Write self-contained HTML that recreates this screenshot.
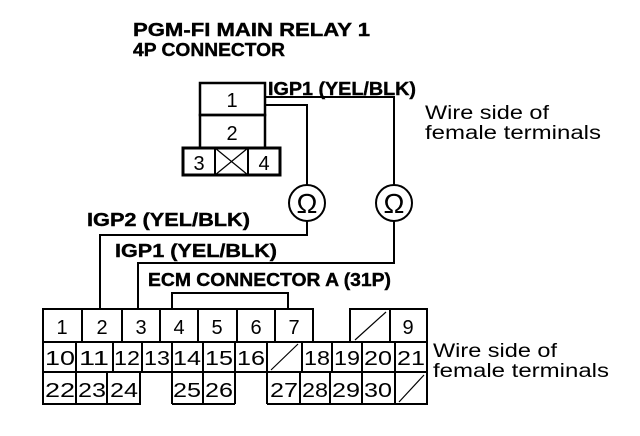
<!DOCTYPE html>
<html><head><style>html,body{margin:0;padding:0;background:#fff}svg{display:block}</style></head><body>
<svg width="640" height="436" viewBox="0 0 640 436" xmlns="http://www.w3.org/2000/svg" font-family="Liberation Sans, Arial, sans-serif">
<g fill="#000" font-weight="bold" font-size="18" stroke="#000" stroke-width="0.4">
<text x="133" y="36" textLength="237" lengthAdjust="spacingAndGlyphs">PGM-FI MAIN RELAY 1</text>
<text x="133" y="56" textLength="152" lengthAdjust="spacingAndGlyphs">4P CONNECTOR</text>
<text x="268" y="95" textLength="148" lengthAdjust="spacingAndGlyphs">IGP1 (YEL/BLK)</text>
<text x="87" y="226" textLength="163" lengthAdjust="spacingAndGlyphs">IGP2 (YEL/BLK)</text>
<text x="115" y="257" textLength="162" lengthAdjust="spacingAndGlyphs">IGP1 (YEL/BLK)</text>
<text x="148" y="286" textLength="243" lengthAdjust="spacingAndGlyphs">ECM CONNECTOR A (31P)</text>
</g>
<g fill="#000" font-size="19">
<text x="425" y="119" textLength="124" lengthAdjust="spacingAndGlyphs">Wire side of</text>
<text x="425" y="139" textLength="176" lengthAdjust="spacingAndGlyphs">female terminals</text>
<text x="433" y="357" textLength="124" lengthAdjust="spacingAndGlyphs">Wire side of</text>
<text x="433" y="377" textLength="176" lengthAdjust="spacingAndGlyphs">female terminals</text>
</g>
<g fill="none" stroke="#000" stroke-width="2">
<rect x="200" y="83" width="65" height="32" stroke-width="2.5"/>
<rect x="200" y="115" width="65" height="33" stroke-width="2.5"/>
<rect x="183" y="148" width="97" height="27" stroke-width="3"/>
<line x1="215" y1="148" x2="215" y2="175"/>
<line x1="248" y1="148" x2="248" y2="175"/>
<line x1="215" y1="148" x2="248" y2="175" stroke-width="1.2"/>
<line x1="248" y1="148" x2="215" y2="175" stroke-width="1.2"/>
<polyline points="265,97 394,97 394,185"/>
<polyline points="394,221 394,263 138,263 138,309"/>
<polyline points="265,105 307,105 307,185"/>
<polyline points="307,221 307,235 100,235 100,309"/>
<circle cx="307" cy="203" r="18"/>
<circle cx="394" cy="203" r="18"/>
<polyline points="172,309 172,293 288,293 288,309"/>
</g>
<g fill="#000" font-size="28" text-anchor="middle">
<text x="307" y="213">Ω</text>
<text x="394" y="213">Ω</text>
</g>
<g fill="#000" font-size="20" text-anchor="middle">
<text x="232" y="107">1</text>
<text x="232" y="140">2</text>
<text x="199" y="170">3</text>
<text x="264" y="170">4</text>
</g>
<g fill="none" stroke="#000" stroke-width="2">
<rect x="43" y="309" width="270" height="33"/>
<line x1="82" y1="309" x2="82" y2="342"/>
<line x1="122" y1="309" x2="122" y2="342"/>
<line x1="160" y1="309" x2="160" y2="342"/>
<line x1="198" y1="309" x2="198" y2="342"/>
<line x1="237" y1="309" x2="237" y2="342"/>
<line x1="275" y1="309" x2="275" y2="342"/>
<rect x="350" y="309" width="77" height="33"/>
<line x1="390" y1="309" x2="390" y2="342"/>
<line x1="355" y1="340" x2="386" y2="312" stroke-width="1.2"/>
<rect x="43" y="342" width="384" height="30"/>
<line x1="76" y1="342" x2="76" y2="404"/>
<line x1="113" y1="342" x2="113" y2="372"/>
<line x1="142" y1="342" x2="142" y2="372"/>
<line x1="172" y1="342" x2="172" y2="404"/>
<line x1="203" y1="342" x2="203" y2="404"/>
<line x1="235" y1="342" x2="235" y2="404"/>
<line x1="267" y1="342" x2="267" y2="404"/>
<line x1="302" y1="342" x2="302" y2="372"/>
<line x1="332" y1="342" x2="332" y2="372"/>
<line x1="362" y1="342" x2="362" y2="404"/>
<line x1="395" y1="342" x2="395" y2="404"/>
<line x1="271" y1="370" x2="298" y2="344" stroke-width="1.2"/>
<polyline points="43,372 43,404 140,404 140,372"/>
<line x1="107" y1="372" x2="107" y2="404"/>
<line x1="172" y1="404" x2="235" y2="404"/>
<polyline points="267,404 427,404 427,372"/>
<line x1="300" y1="372" x2="300" y2="404"/>
<line x1="330" y1="372" x2="330" y2="404"/>
<line x1="399" y1="402" x2="424" y2="375" stroke-width="1.2"/>
</g>
<g fill="#000" font-size="20" text-anchor="middle">
<text x="62" y="334">1</text><text x="102" y="334">2</text><text x="141" y="334">3</text><text x="179" y="334">4</text><text x="217" y="334">5</text><text x="256" y="334">6</text><text x="294" y="334">7</text><text x="408" y="334">9</text>
<text x="60" y="365" textLength="30" lengthAdjust="spacingAndGlyphs">10</text><text x="94" y="365" textLength="30" lengthAdjust="spacingAndGlyphs">11</text><text x="127" y="365" textLength="26" lengthAdjust="spacingAndGlyphs">12</text><text x="157" y="365" textLength="26" lengthAdjust="spacingAndGlyphs">13</text><text x="187" y="365" textLength="28" lengthAdjust="spacingAndGlyphs">14</text><text x="219" y="365" textLength="28" lengthAdjust="spacingAndGlyphs">15</text><text x="251" y="365" textLength="28" lengthAdjust="spacingAndGlyphs">16</text><text x="317" y="365" textLength="26" lengthAdjust="spacingAndGlyphs">18</text><text x="347" y="365" textLength="26" lengthAdjust="spacingAndGlyphs">19</text><text x="378" y="365" textLength="28" lengthAdjust="spacingAndGlyphs">20</text><text x="411" y="365" textLength="28" lengthAdjust="spacingAndGlyphs">21</text>
<text x="60" y="397" textLength="30" lengthAdjust="spacingAndGlyphs">22</text><text x="92" y="397" textLength="28" lengthAdjust="spacingAndGlyphs">23</text><text x="124" y="397" textLength="28" lengthAdjust="spacingAndGlyphs">24</text><text x="187" y="397" textLength="28" lengthAdjust="spacingAndGlyphs">25</text><text x="219" y="397" textLength="28" lengthAdjust="spacingAndGlyphs">26</text><text x="284" y="397" textLength="28" lengthAdjust="spacingAndGlyphs">27</text><text x="315" y="397" textLength="26" lengthAdjust="spacingAndGlyphs">28</text><text x="346" y="397" textLength="28" lengthAdjust="spacingAndGlyphs">29</text><text x="378" y="397" textLength="28" lengthAdjust="spacingAndGlyphs">30</text>
</g>
</svg>
</body></html>
